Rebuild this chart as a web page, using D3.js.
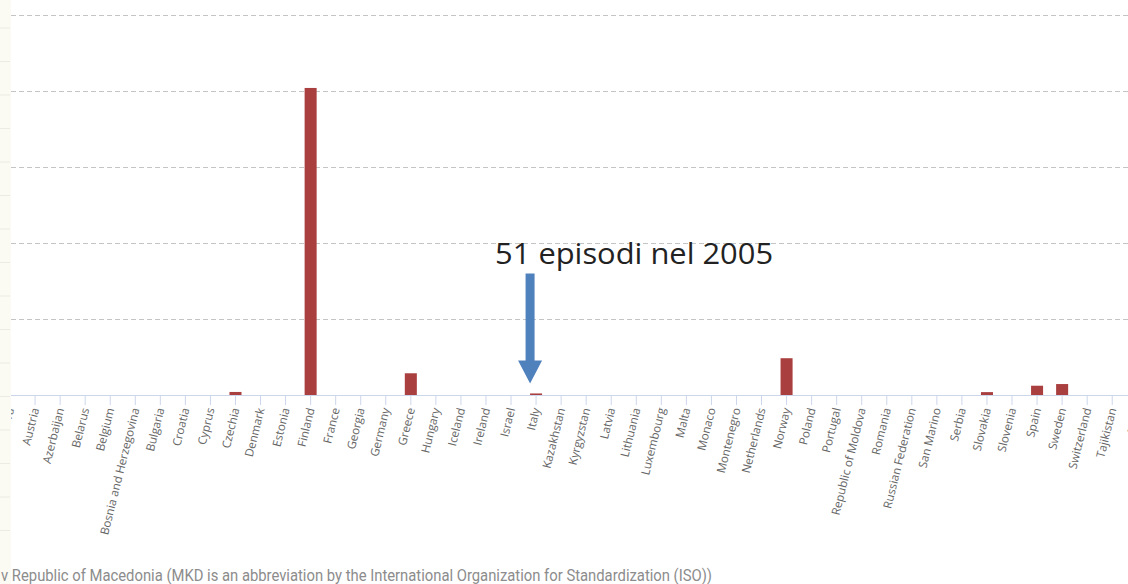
<!DOCTYPE html>
<html>
<head>
<meta charset="utf-8">
<script src="https://cdn.jsdelivr.net/npm/d3@7/dist/d3.min.js"></script>
<style>
  html, body { margin: 0; padding: 0; background: #fff; }
  svg { display: block; }
</style>
</head>
<body>
<svg id="chart" width="1128" height="584"></svg>
<script>
// ---- data ----
const categories = ["Andorra","Austria","Azerbaijan","Belarus","Belgium","Bosnia and Herzegovina","Bulgaria","Croatia","Cyprus","Czechia","Denmark","Estonia","Finland","France","Georgia","Germany","Greece","Hungary","Iceland","Ireland","Israel","Italy","Kazakhstan","Kyrgyzstan","Latvia","Lithuania","Luxembourg","Malta","Monaco","Montenegro","Netherlands","Norway","Poland","Portugal","Republic of Moldova","Romania","Russian Federation","San Marino","Serbia","Slovakia","Slovenia","Spain","Sweden","Switzerland","Tajikistan","MKD"];
const cases = [0,0,0,0,0,0,0,0,0,100,0,0,10100,0,0,0,715,0,0,0,0,51,0,0,0,0,0,0,0,0,0,1210,0,0,0,0,0,0,0,95,0,305,360,0,0,0];
const yTicks = [2500,5000,7500,10000,12500];
const annotationText = "51 episodi nel 2005";
const annotationCountry = "Italy";
const footnote = "v Republic of Macedonia (MKD is an abbreviation by the International Organization for Standardization (ISO))";

// ---- layout ----
const W = 1128, H = 584;
const plotLeft = 11, plotRight = 1128;
const baseY = 395, topY = 15;
const svg = d3.select("#chart");

const x = d3.scaleBand().domain(categories).range([-2.5, -2.5 + categories.length * 25.05]).padding(0);
const y = d3.scaleLinear().domain([0, 12500]).range([baseY, topY]);

// gridlines
svg.append("g").selectAll("line").data(yTicks).join("line")
  .attr("x1", plotLeft).attr("x2", plotRight)
  .attr("y1", d => Math.round(y(d)) + 0.5).attr("y2", d => Math.round(y(d)) + 0.5)
  .attr("stroke", "#c4c4c4").attr("stroke-width", 1).attr("stroke-dasharray", "5,3");

// bars
const barW = x.bandwidth() * 0.48;
svg.append("g").selectAll("rect").data(categories.map((c, i) => ({c, v: cases[i]})).filter(d => d.v > 0)).join("rect")
  .attr("x", d => x(d.c) + x.bandwidth() / 2 - barW / 2)
  .attr("width", barW)
  .attr("y", d => y(d.v))
  .attr("height", d => baseY - y(d.v))
  .attr("fill", "#aa3f3f");

// x axis
const axis = d3.axisBottom(x).tickSize(10).tickSizeOuter(0);
const gx = svg.append("g").attr("transform", `translate(0,${baseY})`).call(axis);
gx.select(".domain").remove();
gx.selectAll(".tick line").attr("stroke", "#ccd6eb");
gx.selectAll(".tick text")
  .attr("fill", "#666")
  .style("font-family", "'Open Sans', sans-serif")
  .style("font-size", "11.6px")
  .attr("text-anchor", "end")
  .attr("x", 1).attr("y", 0).attr("dy", "0.35em")
  .attr("transform", "translate(0,14) rotate(-76)");
svg.append("line").attr("x1", plotLeft).attr("x2", plotRight)
  .attr("y1", baseY + 0.5).attr("y2", baseY + 0.5)
  .attr("stroke", "#ccd6eb").attr("stroke-width", 1);

// left strip
svg.append("rect").attr("x", 0).attr("y", 0).attr("width", plotLeft).attr("height", H).attr("fill", "#fbfbf3");
svg.append("g").selectAll("line").data(d3.range(28, 560, 33.5)).join("line")
  .attr("x1", 0).attr("x2", 10).attr("y1", d => d).attr("y2", d => d)
  .attr("stroke", "#ebebe5").attr("stroke-width", 1);

// annotation arrow
const ax = x(annotationCountry) + x.bandwidth() / 2 - 6;
const tipY = y(cases[categories.indexOf(annotationCountry)]) - 10;
const arrow = d3.path();
arrow.moveTo(ax - 4.5, tipY - 110);
arrow.lineTo(ax + 4.5, tipY - 110);
arrow.lineTo(ax + 4.5, tipY - 23);
arrow.lineTo(ax + 12, tipY - 23);
arrow.lineTo(ax, tipY);
arrow.lineTo(ax - 12, tipY - 23);
arrow.lineTo(ax - 4.5, tipY - 23);
arrow.closePath();
svg.append("path").attr("d", arrow.toString()).attr("fill", "#4f81bd");

svg.append("text").attr("x", ax - 35).attr("y", tipY - 119)
  .attr("fill", "#222")
  .style("font-family", "'Open Sans', sans-serif")
  .style("font-size", "29px")
  .attr("textLength", 278).attr("lengthAdjust", "spacingAndGlyphs")
  .text(annotationText);

// footnote
svg.append("text").attr("x", 1).attr("y", 581)
  .attr("fill", "#8c8c8c")
  .style("font-family", "Roboto, sans-serif")
  .style("font-size", "16px")
  .attr("textLength", 711).attr("lengthAdjust", "spacingAndGlyphs")
  .text(footnote);
</script>
</body>
</html>
